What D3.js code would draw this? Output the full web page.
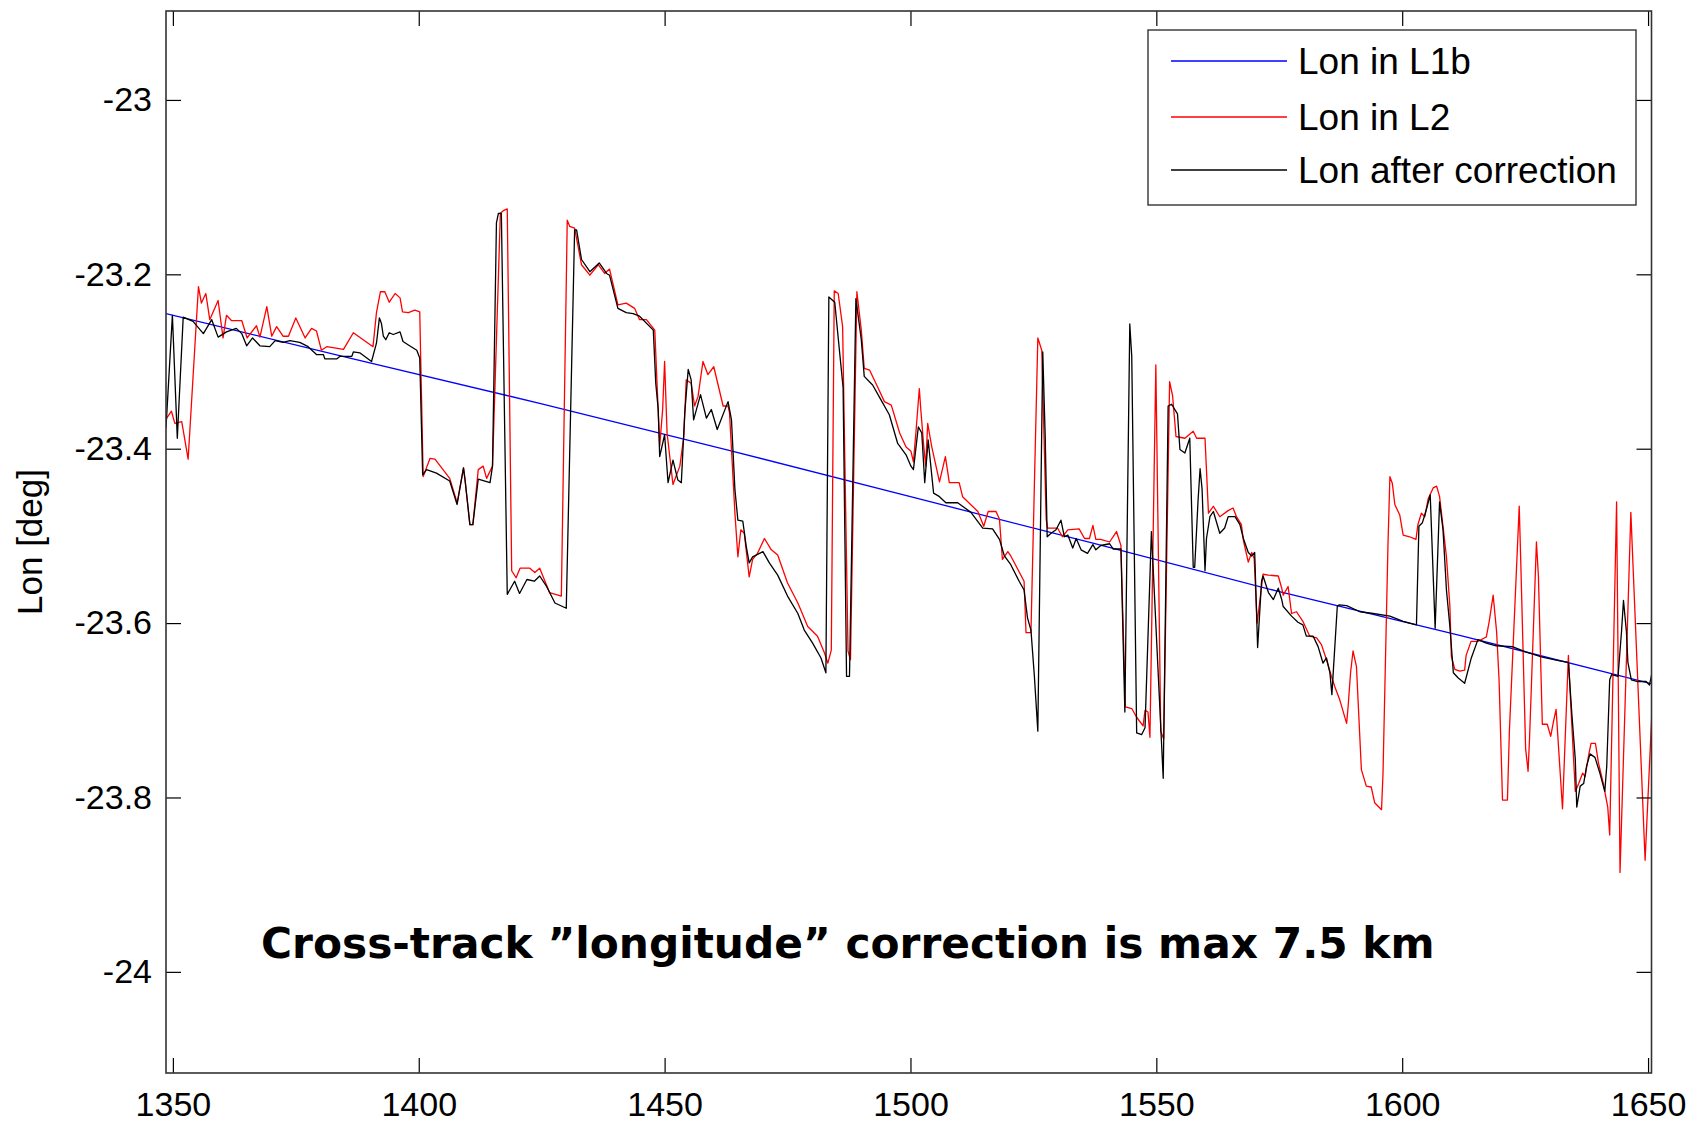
<!DOCTYPE html>
<html><head><meta charset="utf-8">
<script src="https://cdn.jsdelivr.net/npm/d3@7"></script>
<style>html,body{margin:0;padding:0;background:#fff;} svg{display:block;}</style>
</head><body>
<svg id="chart" width="1701" height="1122"></svg>
<script>
// ---------------- data ----------------
const xTicks = [1350, 1400, 1450, 1500, 1550, 1600, 1650];
const yTicks = [-23, -23.2, -23.4, -23.6, -23.8, -24];
const seriesNames = ["Lon in L1b", "Lon in L2", "Lon after correction"];
const seriesColors = ["#0000ff", "#ff0000", "#000000"];
const yLabel = "Lon [deg]";
const annotation = "Cross-track \u201dlongitude\u201d correction is max 7.5 km";

// Lon in L1b (blue)
const lonL1b = [[1348.6,-23.245],[1386,-23.296],[1424.6,-23.348],[1462.5,-23.401],[1500,-23.455],
  [1537.5,-23.509],[1575,-23.564],[1611.7,-23.614],[1651,-23.670]];

// Lon in L2 (red)
const lonL2 = [[1348.6,-23.366],[1349.7,-23.357],[1350.4,-23.371],[1351.8,-23.369],[1353.1,-23.412],[1355.2,-23.214],[1355.8,-23.233],[1356.7,-23.222],[1357.5,-23.252],[1359.2,-23.230],[1360.2,-23.273],[1360.9,-23.247],[1361.9,-23.253],[1364.0,-23.253],[1365.1,-23.273],[1367.0,-23.259],[1367.7,-23.272],[1369.1,-23.237],[1370.1,-23.271],[1371.1,-23.260],[1372.4,-23.271],[1373.5,-23.271],[1375.0,-23.250],[1376.9,-23.273],[1378.2,-23.262],[1379.2,-23.265],[1380.2,-23.287],[1381.3,-23.283],[1384.7,-23.286],[1386.7,-23.267],[1388.7,-23.275],[1390.7,-23.283],[1391.4,-23.244],[1392.2,-23.220],[1393.1,-23.220],[1394.0,-23.232],[1395.2,-23.222],[1396.2,-23.227],[1396.7,-23.243],[1397.9,-23.244],[1399.2,-23.241],[1400.2,-23.243],[1400.9,-23.432],[1402.3,-23.411],[1403.3,-23.412],[1406.3,-23.434],[1407.8,-23.462],[1409.1,-23.422],[1409.4,-23.435],[1410.4,-23.487],[1411.0,-23.487],[1412.1,-23.424],[1413.1,-23.420],[1413.8,-23.434],[1415.0,-23.420],[1416.6,-23.130],[1417.2,-23.127],[1418.0,-23.125],[1418.9,-23.540],[1419.8,-23.548],[1420.6,-23.537],[1422.6,-23.537],[1423.6,-23.542],[1424.6,-23.537],[1426.6,-23.565],[1429.0,-23.569],[1430.2,-23.138],[1430.7,-23.145],[1431.7,-23.147],[1433.1,-23.189],[1434.8,-23.201],[1436.5,-23.189],[1437.8,-23.199],[1438.8,-23.194],[1440.5,-23.235],[1442.2,-23.233],[1443.9,-23.239],[1444.9,-23.252],[1446.3,-23.252],[1448.0,-23.264],[1449.0,-23.397],[1449.6,-23.355],[1450.0,-23.300],[1450.5,-23.382],[1451.7,-23.441],[1453.1,-23.420],[1453.9,-23.386],[1454.4,-23.321],[1455.4,-23.325],[1456.1,-23.351],[1456.8,-23.340],[1457.8,-23.300],[1458.8,-23.315],[1460.0,-23.306],[1461.9,-23.351],[1462.9,-23.351],[1463.2,-23.359],[1464.3,-23.474],[1464.9,-23.524],[1465.5,-23.493],[1466.2,-23.497],[1467.2,-23.547],[1467.9,-23.527],[1468.9,-23.520],[1470.3,-23.503],[1471.7,-23.516],[1473.0,-23.522],[1475.0,-23.554],[1477.1,-23.577],[1479.1,-23.604],[1481.1,-23.615],[1482.5,-23.634],[1483.2,-23.646],[1483.9,-23.631],[1484.5,-23.219],[1485.3,-23.222],[1486.2,-23.260],[1487.3,-23.632],[1487.8,-23.642],[1489.1,-23.220],[1490.0,-23.264],[1490.6,-23.308],[1491.7,-23.310],[1493.3,-23.329],[1494.7,-23.346],[1496.1,-23.350],[1497.8,-23.382],[1499.1,-23.398],[1500.1,-23.403],[1500.6,-23.415],[1501.1,-23.382],[1501.8,-23.331],[1502.1,-23.355],[1502.7,-23.397],[1503.1,-23.420],[1503.5,-23.371],[1504.3,-23.397],[1505.9,-23.438],[1507.1,-23.409],[1507.9,-23.439],[1509.9,-23.439],[1510.6,-23.455],[1513.7,-23.472],[1514.9,-23.489],[1515.8,-23.472],[1517.4,-23.472],[1518.1,-23.481],[1518.7,-23.527],[1519.8,-23.518],[1520.4,-23.523],[1523.1,-23.552],[1523.5,-23.611],[1524.5,-23.611],[1525.9,-23.273],[1526.7,-23.287],[1527.6,-23.481],[1527.9,-23.491],[1529.9,-23.491],[1530.9,-23.501],[1532.0,-23.493],[1534.3,-23.492],[1535.4,-23.503],[1536.4,-23.503],[1537.1,-23.488],[1537.7,-23.504],[1538.7,-23.504],[1540.5,-23.507],[1541.9,-23.495],[1542.8,-23.511],[1543.7,-23.696],[1545.0,-23.698],[1546.0,-23.708],[1547.3,-23.718],[1547.7,-23.700],[1548.3,-23.702],[1548.7,-23.731],[1549.9,-23.304],[1550.9,-23.724],[1551.5,-23.733],[1552.7,-23.323],[1553.3,-23.339],[1554.0,-23.386],[1555.8,-23.388],[1557.5,-23.380],[1558.2,-23.388],[1559.9,-23.388],[1560.6,-23.474],[1561.6,-23.466],[1562.9,-23.478],[1564.6,-23.471],[1565.6,-23.468],[1566.3,-23.478],[1567.3,-23.487],[1567.7,-23.505],[1568.7,-23.530],[1569.4,-23.519],[1569.9,-23.526],[1570.5,-23.600],[1571.7,-23.544],[1572.8,-23.545],[1574.8,-23.546],[1575.5,-23.560],[1575.8,-23.568],[1576.8,-23.558],[1577.5,-23.589],[1578.5,-23.587],[1579.8,-23.598],[1581.2,-23.615],[1582.6,-23.617],[1583.6,-23.625],[1584.6,-23.642],[1585.6,-23.661],[1586.3,-23.673],[1587.3,-23.688],[1588.7,-23.715],[1589.0,-23.696],[1589.5,-23.657],[1590.0,-23.632],[1590.7,-23.650],[1591.7,-23.768],[1592.7,-23.787],[1593.7,-23.788],[1594.4,-23.806],[1595.8,-23.814],[1596.1,-23.772],[1597.1,-23.512],[1597.5,-23.432],[1598.0,-23.440],[1598.5,-23.464],[1599.5,-23.476],[1600.2,-23.499],[1601.5,-23.501],[1602.8,-23.504],[1603.2,-23.487],[1603.9,-23.474],[1604.6,-23.478],[1605.3,-23.457],[1606.3,-23.445],[1607.0,-23.443],[1607.6,-23.455],[1608.3,-23.489],[1609.0,-23.524],[1609.7,-23.581],[1610.0,-23.638],[1610.7,-23.653],[1611.7,-23.655],[1612.7,-23.654],[1613.0,-23.637],[1614.0,-23.621],[1615.4,-23.621],[1617.1,-23.616],[1617.7,-23.598],[1618.5,-23.568],[1619.2,-23.610],[1619.7,-23.665],[1620.4,-23.803],[1621.4,-23.803],[1621.8,-23.724],[1623.8,-23.466],[1624.1,-23.527],[1625.1,-23.744],[1625.6,-23.770],[1625.9,-23.732],[1627.3,-23.507],[1627.7,-23.546],[1628.5,-23.716],[1629.5,-23.716],[1630.2,-23.730],[1630.8,-23.712],[1631.3,-23.699],[1632.6,-23.813],[1633.8,-23.637],[1634.2,-23.685],[1635.2,-23.793],[1635.9,-23.784],[1636.7,-23.772],[1637.2,-23.776],[1637.9,-23.752],[1638.4,-23.738],[1639.3,-23.738],[1639.9,-23.760],[1640.9,-23.784],[1641.8,-23.811],[1642.2,-23.843],[1643.6,-23.461],[1644.3,-23.886],[1646.5,-23.473],[1649.4,-23.872],[1650.8,-23.700]];

// Lon after correction (black)
const lonCorrected = [[1348.6,-23.376],[1349.9,-23.247],[1350.9,-23.388],[1352.1,-23.249],[1354.1,-23.254],[1356.2,-23.268],[1357.9,-23.252],[1359.2,-23.272],[1360.9,-23.266],[1362.9,-23.262],[1364.0,-23.268],[1365.0,-23.282],[1366.2,-23.273],[1367.7,-23.282],[1369.7,-23.283],[1370.8,-23.276],[1372.4,-23.278],[1373.8,-23.276],[1375.8,-23.278],[1377.5,-23.283],[1379.2,-23.292],[1380.6,-23.292],[1380.9,-23.297],[1383.3,-23.297],[1384.0,-23.294],[1386.4,-23.294],[1386.7,-23.289],[1388.0,-23.290],[1390.4,-23.300],[1391.4,-23.279],[1392.0,-23.250],[1392.4,-23.256],[1392.8,-23.271],[1393.3,-23.275],[1394.0,-23.267],[1394.8,-23.269],[1396.2,-23.266],[1396.8,-23.277],[1397.9,-23.281],[1399.6,-23.287],[1400.2,-23.296],[1400.8,-23.430],[1401.6,-23.424],[1403.6,-23.428],[1406.3,-23.437],[1407.8,-23.464],[1409.1,-23.422],[1409.4,-23.435],[1410.4,-23.487],[1411.0,-23.487],[1412.1,-23.435],[1414.5,-23.439],[1415.0,-23.420],[1415.8,-23.141],[1416.2,-23.130],[1416.8,-23.130],[1418.0,-23.567],[1419.5,-23.552],[1420.5,-23.566],[1422.0,-23.550],[1423.5,-23.552],[1424.6,-23.546],[1426.0,-23.558],[1427.7,-23.577],[1430.0,-23.583],[1431.7,-23.149],[1432.1,-23.149],[1433.1,-23.183],[1434.8,-23.197],[1436.7,-23.187],[1438.2,-23.199],[1438.8,-23.201],[1440.5,-23.239],[1442.2,-23.244],[1443.6,-23.245],[1444.9,-23.248],[1447.7,-23.264],[1448.2,-23.325],[1448.7,-23.355],[1449.0,-23.409],[1450.0,-23.384],[1450.7,-23.439],[1451.7,-23.413],[1452.7,-23.436],[1453.4,-23.439],[1454.1,-23.359],[1454.8,-23.309],[1455.4,-23.321],[1455.9,-23.367],[1457.3,-23.338],[1458.5,-23.365],[1459.5,-23.355],[1460.7,-23.378],[1462.9,-23.346],[1463.6,-23.367],[1464.3,-23.447],[1464.9,-23.482],[1465.9,-23.483],[1466.6,-23.512],[1467.2,-23.531],[1467.9,-23.524],[1470.0,-23.518],[1471.3,-23.531],[1473.0,-23.545],[1475.0,-23.569],[1477.1,-23.589],[1478.4,-23.608],[1480.1,-23.623],[1481.8,-23.640],[1482.8,-23.657],[1483.4,-23.226],[1484.6,-23.232],[1485.6,-23.290],[1486.3,-23.330],[1487.0,-23.661],[1487.6,-23.661],[1488.9,-23.228],[1490.0,-23.275],[1490.6,-23.317],[1492.3,-23.327],[1494.0,-23.344],[1495.7,-23.361],[1497.4,-23.394],[1499.1,-23.407],[1500.1,-23.420],[1500.6,-23.424],[1501.6,-23.375],[1502.3,-23.382],[1502.9,-23.439],[1503.6,-23.390],[1504.7,-23.451],[1505.9,-23.455],[1507.2,-23.462],[1509.6,-23.462],[1512.3,-23.473],[1514.7,-23.491],[1516.7,-23.492],[1518.1,-23.504],[1519.1,-23.523],[1520.4,-23.533],[1522.1,-23.552],[1523.1,-23.562],[1523.8,-23.594],[1524.5,-23.608],[1525.2,-23.661],[1525.9,-23.724],[1526.9,-23.289],[1527.4,-23.386],[1527.8,-23.501],[1528.6,-23.497],[1529.6,-23.493],[1530.6,-23.482],[1531.3,-23.501],[1532.0,-23.499],[1533.0,-23.514],[1533.7,-23.503],[1534.7,-23.516],[1536.0,-23.520],[1537.1,-23.510],[1537.7,-23.516],[1538.7,-23.511],[1540.5,-23.509],[1541.2,-23.515],[1542.8,-23.515],[1543.6,-23.702],[1544.6,-23.257],[1545.0,-23.294],[1546.0,-23.726],[1547.0,-23.728],[1547.7,-23.720],[1549.0,-23.495],[1551.4,-23.778],[1552.4,-23.351],[1553.1,-23.349],[1554.3,-23.360],[1554.8,-23.401],[1555.8,-23.405],[1556.8,-23.388],[1557.5,-23.536],[1557.8,-23.536],[1558.5,-23.458],[1558.9,-23.423],[1559.3,-23.446],[1559.9,-23.540],[1560.2,-23.503],[1560.9,-23.478],[1561.6,-23.472],[1562.9,-23.497],[1563.9,-23.491],[1564.6,-23.478],[1566.0,-23.478],[1567.0,-23.487],[1567.7,-23.503],[1568.7,-23.519],[1569.4,-23.523],[1570.0,-23.519],[1570.6,-23.628],[1571.4,-23.552],[1571.7,-23.546],[1572.8,-23.565],[1573.8,-23.573],[1574.8,-23.560],[1575.5,-23.573],[1575.8,-23.581],[1577.5,-23.592],[1578.8,-23.599],[1579.8,-23.602],[1580.5,-23.615],[1581.9,-23.615],[1582.9,-23.627],[1583.9,-23.646],[1584.6,-23.640],[1585.3,-23.657],[1585.7,-23.682],[1586.8,-23.581],[1587.2,-23.579],[1588.7,-23.580],[1591.4,-23.587],[1594.1,-23.589],[1597.5,-23.592],[1600.2,-23.598],[1602.9,-23.602],[1603.4,-23.489],[1604.1,-23.485],[1604.9,-23.470],[1605.7,-23.453],[1606.7,-23.606],[1607.6,-23.461],[1608.3,-23.493],[1609.0,-23.562],[1609.7,-23.604],[1610.4,-23.657],[1611.4,-23.663],[1612.7,-23.669],[1614.0,-23.641],[1615.4,-23.619],[1617.1,-23.623],[1619.1,-23.626],[1622.4,-23.627],[1625.1,-23.633],[1628.5,-23.639],[1631.8,-23.643],[1633.8,-23.645],[1634.5,-23.704],[1635.2,-23.756],[1635.5,-23.811],[1636.2,-23.787],[1636.9,-23.784],[1637.5,-23.764],[1638.2,-23.750],[1639.2,-23.754],[1640.2,-23.772],[1641.2,-23.793],[1641.6,-23.764],[1642.2,-23.665],[1642.6,-23.659],[1643.9,-23.661],[1644.6,-23.610],[1645.0,-23.574],[1645.6,-23.610],[1645.9,-23.645],[1646.6,-23.665],[1647.9,-23.667],[1649.6,-23.667],[1650.3,-23.671],[1650.8,-23.657]];

// ---------------- layout ----------------
const svg = d3.select("#chart");
const plot = {left: 166, right: 1651.5, top: 11, bottom: 1073};
const xDomain = [1348.6, 1650.7];
const yDomain = [-24.116, -22.898];
const x = d3.scaleLinear().domain(xDomain).range([plot.left, plot.right]);
const y = d3.scaleLinear().domain(yDomain).range([plot.bottom, plot.top]);
const tickFont = "'Liberation Sans', Arial, sans-serif";

svg.append("rect").attr("width", 1701).attr("height", 1122).attr("fill", "#fff");

svg.append("clipPath").attr("id", "clip").append("rect")
  .attr("x", plot.left).attr("y", plot.top)
  .attr("width", plot.right - plot.left).attr("height", plot.bottom - plot.top);

// data lines
const line = d3.line().x(d => x(d[0])).y(d => y(d[1]));
const g = svg.append("g").attr("clip-path", "url(#clip)");
[lonL1b, lonL2, lonCorrected].forEach((s, i) => {
  g.append("path").datum(s).attr("d", line)
    .attr("fill", "none").attr("stroke", seriesColors[i])
    .attr("stroke-width", 1.3).attr("stroke-linejoin", "round");
});

// axes (ticks inward on all four sides)
function styleAxis(sel, showText) {
  sel.select(".domain").remove();
  sel.selectAll(".tick line").attr("stroke", "#000").attr("stroke-width", 1.2);
  sel.selectAll(".tick text").attr("fill", "#000");
  if (!showText) sel.selectAll(".tick text").remove();
  sel.attr("font-family", tickFont).attr("font-size", 34);
}
const fmtY = d => String(+d.toFixed(1)).replace("\u2212", "-");
svg.append("g").attr("transform", `translate(0,${plot.bottom})`)
  .call(d3.axisBottom(x).tickValues(xTicks).tickSizeInner(-15).tickSizeOuter(0).tickPadding(19).tickFormat(d3.format("d")))
  .call(s => styleAxis(s, true));
svg.append("g").attr("transform", `translate(0,${plot.top})`)
  .call(d3.axisTop(x).tickValues(xTicks).tickSizeInner(-15).tickSizeOuter(0))
  .call(s => styleAxis(s, false));
svg.append("g").attr("transform", `translate(${plot.left},0)`)
  .call(d3.axisLeft(y).tickValues(yTicks).tickSizeInner(-15).tickSizeOuter(0).tickPadding(14).tickFormat(fmtY))
  .call(s => styleAxis(s, true));
svg.append("g").attr("transform", `translate(${plot.right},0)`)
  .call(d3.axisRight(y).tickValues(yTicks).tickSizeInner(-15).tickSizeOuter(0))
  .call(s => styleAxis(s, false));

// frame
svg.append("rect").attr("x", plot.left).attr("y", plot.top)
  .attr("width", plot.right - plot.left).attr("height", plot.bottom - plot.top)
  .attr("fill", "none").attr("stroke", "#333").attr("stroke-width", 1.6);

// y label
svg.append("text")
  .attr("transform", `translate(42,${(plot.top + plot.bottom) / 2}) rotate(-90)`)
  .attr("text-anchor", "middle").attr("font-family", tickFont).attr("font-size", 35)
  .attr("fill", "#000").text(yLabel);

// legend
const lg = {x: 1148, y: 30, w: 488, h: 175, rowY: [61, 117, 170], lineX0: 1171, lineX1: 1287, textX: 1298};
svg.append("rect").attr("x", lg.x).attr("y", lg.y).attr("width", lg.w).attr("height", lg.h)
  .attr("fill", "#fff").attr("stroke", "#333").attr("stroke-width", 1.4);
seriesNames.forEach((name, i) => {
  svg.append("line").attr("x1", lg.lineX0).attr("x2", lg.lineX1)
    .attr("y1", lg.rowY[i]).attr("y2", lg.rowY[i])
    .attr("stroke", seriesColors[i]).attr("stroke-width", 1.3);
  svg.append("text").attr("x", lg.textX).attr("y", lg.rowY[i] + 13)
    .attr("font-family", tickFont).attr("font-size", 37).attr("fill", "#000").text(name);
});

// annotation (bold, sized to span the reference width)
const ann = svg.append("text").attr("x", 261).attr("y", 958)
  .attr("font-family", "'DejaVu Sans', Verdana, sans-serif").attr("font-weight", "bold")
  .attr("font-size", 40).attr("fill", "#000").text(annotation);
const w0 = ann.node().getComputedTextLength();
if (w0 > 0) ann.attr("font-size", 40 * 1174 / w0);
</script>
</body></html>
